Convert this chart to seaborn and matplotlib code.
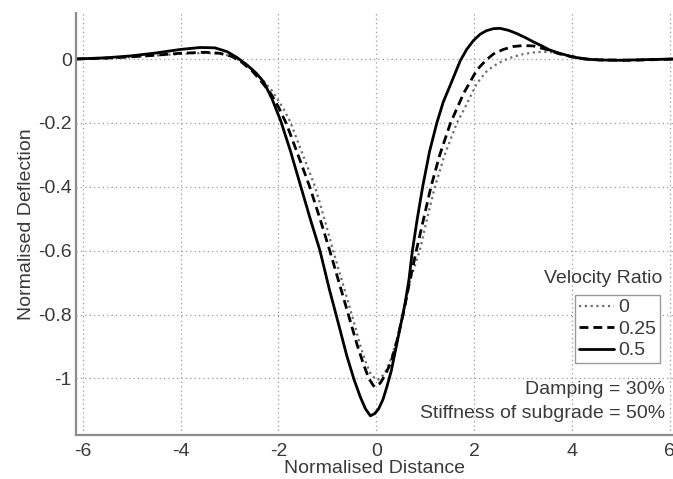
import numpy as np
import pandas as pd
import matplotlib
matplotlib.use("Agg")
import matplotlib.pyplot as plt
import seaborn as sns

# ---- data ----
x_v0 = [-6.14, -5.5, -5.0, -4.5, -4.0, -3.5, -3.2, -2.95, -2.75, -2.55, -2.35, -2.15, -2.0, -1.88,
        -1.75, -1.5, -1.25, -1.06, -0.88, -0.69, -0.5, -0.32, -0.2, -0.1, 0.02, 0.1, 0.2, 0.3,
        0.42, 0.55, 0.7, 0.89, 1.04, 1.2, 1.4, 1.65, 1.79, 2.06, 2.25, 2.4, 2.6, 2.8, 3.0, 3.28,
        3.55, 3.8, 4.05, 4.35, 4.7, 5.3, 6.1]
y_v0 = [0.0, 0.002, 0.006, 0.011, 0.016, 0.019, 0.017, 0.008, -0.008, -0.03, -0.062, -0.095, -0.13, -0.16,
        -0.2, -0.3, -0.4, -0.5, -0.6, -0.7, -0.8, -0.9, -0.955, -0.99, -1.005, -0.998, -0.975, -0.94,
        -0.88, -0.8, -0.69, -0.6, -0.5, -0.4, -0.3, -0.2, -0.16, -0.076, -0.04, -0.022, -0.005, 0.007, 0.015, 0.022,
        0.022, 0.015, 0.007, 0.0, -0.003, -0.003, 0.0]

x_v025 = [-6.14, -5.5, -5.0, -4.5, -4.0, -3.5, -3.2, -2.95, -2.75, -2.55, -2.35, -2.15, -2.0, -1.83,
          -1.6, -1.36, -1.15, -0.95, -0.76, -0.57, -0.38, -0.25, -0.15, -0.06, -0.03, 0.08, 0.18, 0.3,
          0.42, 0.55, 0.68, 0.82, 0.97, 1.12, 1.3, 1.52, 1.79, 2.06, 2.25, 2.4, 2.6, 2.8, 3.0, 3.21,
          3.48, 3.75, 4.0, 4.3, 4.6, 5.2, 5.7, 6.1]
y_v025 = [0.0, 0.003, 0.007, 0.012, 0.018, 0.021, 0.018, 0.008, -0.01, -0.035, -0.07, -0.11, -0.15, -0.205,
          -0.3, -0.4, -0.5, -0.6, -0.7, -0.8, -0.9, -0.96, -1.0, -1.022, -1.026, -1.015, -0.99, -0.95,
          -0.885, -0.8, -0.7, -0.6, -0.5, -0.4, -0.3, -0.2, -0.107, -0.034, -0.003, 0.016, 0.03, 0.039, 0.042, 0.041,
          0.03, 0.016, 0.007, 0.0, -0.003, -0.004, -0.002, 0.0]

x_v05 = [-6.14, -5.5, -5.0, -4.5, -4.0, -3.6, -3.3, -3.05, -2.85, -2.64, -2.45, -2.3, -2.13, -1.95,
         -1.75, -1.56, -1.35, -1.15, -0.96, -0.77, -0.6, -0.45, -0.32, -0.22, -0.12, -0.03, 0.05, 0.14,
         0.22, 0.31, 0.45, 0.59, 0.67, 0.74, 0.84, 0.95, 1.09, 1.24, 1.37, 1.52, 1.72, 1.85, 1.99, 2.13,
         2.26, 2.4, 2.53, 2.7, 2.87, 3.05, 3.21, 3.4, 3.55, 3.75, 3.98, 4.25, 4.55, 5.0, 5.5, 6.1]
y_v05 = [0.0, 0.004, 0.01, 0.019, 0.03, 0.036, 0.035, 0.023, 0.005, -0.019, -0.045, -0.072, -0.125, -0.195,
         -0.29, -0.39, -0.5, -0.6, -0.72, -0.83, -0.93, -1.005, -1.06, -1.095, -1.117, -1.11, -1.095, -1.065,
         -1.025, -0.975, -0.87, -0.765, -0.69, -0.6, -0.5, -0.4, -0.29, -0.2, -0.135, -0.08, -0.005, 0.03, 0.058, 0.078,
         0.089, 0.095, 0.096, 0.09, 0.08, 0.067, 0.054, 0.04, 0.028, 0.018, 0.008, 0.0, -0.003, -0.004, -0.002, 0.0]

series_labels = ["0", "0.25", "0.5"]
x_ticks = [-6, -4, -2, 0, 2, 4, 6]
x_ticklabels = ["-6", "-4", "-2", "0", "2", "4", "6"]
y_ticks = [0, -0.2, -0.4, -0.6, -0.8, -1]
y_ticklabels = ["0", "-0.2", "-0.4", "-0.6", "-0.8", "-1"]

# ---- style ----
sns.set_style("white")
plt.rcParams["font.family"] = ["Liberation Sans", "DejaVu Sans"]
plt.rcParams["axes.unicode_minus"] = False
txt_col = "#3a3a3a"
spine_col = "#8c8c8c"
FS = 14

fig = plt.figure(figsize=(6.73, 4.79), dpi=100)
ax = fig.add_axes([76/673, 1-435/479, 1-76/673, (435-13)/479])

styles = [
    dict(color="#6e6e6e", linestyle=(0, (1, 1.6)), linewidth=1.6),
    dict(color="black", linestyle=(0, (3.2, 1.8)), linewidth=2.0),
    dict(color="black", linestyle="-", linewidth=2.0),
]
for xs, ys, lab, st in zip([x_v0, x_v025, x_v05], [y_v0, y_v025, y_v05], series_labels, styles):
    df = pd.DataFrame({"x": xs, "y": ys})
    sns.lineplot(data=df, x="x", y="y", ax=ax, estimator=None, sort=False, label=lab, **st)

ax.set_xlim(-6.14, 6.07)
ax.set_ylim(-1.177, 0.144)
ax.set_xticks(x_ticks)
ax.set_xticklabels(x_ticklabels)
ax.set_yticks(y_ticks)
ax.set_yticklabels(y_ticklabels)

ax.grid(True, linestyle=(0, (1, 2.5)), color="#9a9a9a", linewidth=0.9)
ax.set_axisbelow(True)
for s in ["top", "right"]:
    ax.spines[s].set_visible(False)
for s in ["left", "bottom"]:
    ax.spines[s].set_color(spine_col)
    ax.spines[s].set_linewidth(1.6)
ax.tick_params(direction="in", length=5, width=1.2, color=spine_col,
               labelsize=FS, labelcolor=txt_col, pad=3)
ax.tick_params(axis="x", pad=6)

ax.set_xlabel("Normalised Distance", fontsize=FS, color=txt_col, labelpad=0)
ax.set_ylabel("Normalised Deflection", fontsize=FS, color=txt_col, labelpad=2)

leg = ax.legend(loc="upper right", bbox_to_anchor=(0.978, 0.332), fontsize=FS,
                frameon=True, fancybox=False, framealpha=1, edgecolor="#9a9a9a",
                handlelength=1.8, handletextpad=0.2, borderpad=0.2, labelspacing=0.2,
                borderaxespad=0)
leg.get_frame().set_linewidth(1.0)
for t in leg.get_texts():
    t.set_color(txt_col)

ax.text(0.982, 0.37, "Velocity Ratio", transform=ax.transAxes, ha="right", va="center",
        fontsize=FS, color=txt_col)
ax.text(0.987, 0.107, "Damping = 30%", transform=ax.transAxes, ha="right", va="center",
        fontsize=FS, color=txt_col)
ax.text(0.987, 0.052, "Stiffness of subgrade = 50%", transform=ax.transAxes, ha="right", va="center",
        fontsize=FS, color=txt_col)

fig.savefig("out.png", dpi=100)
